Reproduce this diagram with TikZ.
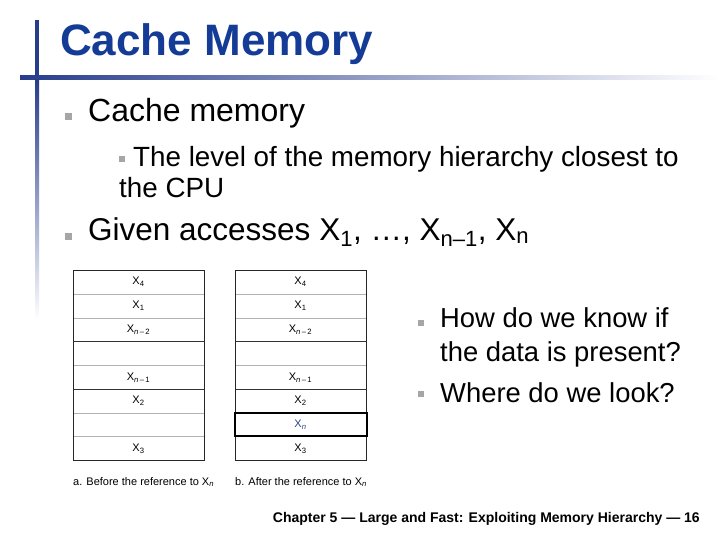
\documentclass[tikz,border=0pt]{standalone}
\usepackage{fontspec}
\setmainfont{Liberation Sans}
\definecolor{tblue}{RGB}{20,60,150}
\definecolor{bar}{RGB}{40,60,140}
\definecolor{xn}{RGB}{40,70,140}
\begin{document}
\begin{tikzpicture}[x=1pt,y=-1pt,
  bul/.style={fill=gray!70,minimum size=7pt,inner sep=0pt},
  txt/.style={anchor=west,inner sep=0pt,align=left},
  cell/.style={font=\fontsize{11}{12}\selectfont},
  captxt/.style={font=\fontsize{11}{12}\selectfont,anchor=west,inner sep=0pt}]
\useasboundingbox (0,0) rectangle (720,540);
\fill[white] (0,0) rectangle (720,540);
% decorations
\shade[left color=bar,right color=white] (20,76) rectangle (720,80);
\fill[bar] (35,20) rectangle (39,76);
\shade[top color=bar,bottom color=white] (35,80) rectangle (39,320);
\node[txt,text=tblue,font=\fontsize{44}{46}\selectfont\bfseries] (title) at (60,44) {Cache Memory};
% bullets
\node[bul] (b1) at (68,117) {};
\node[txt,font=\fontsize{32}{36}\selectfont] (t1) at (88,113) {Cache memory};
\node[bul,minimum size=6pt] (b2) at (122,159) {};
\node[txt,font=\fontsize{27.8}{31}\selectfont] (t2) at (119,172) {\hspace*{14pt}The level of the memory hierarchy closest to\\the CPU};
\node[bul] (b3) at (68,236) {};
\node[txt,font=\fontsize{31.5}{36}\selectfont] (t3) at (88,232) {Given accesses X\textsubscript{1}, …, X\textsubscript{n–1}, X\textsubscript{n}};
\node[bul,minimum size=6pt] (b4) at (421,323) {};
\node[bul,minimum size=6pt] (b5) at (421,394) {};
\node[txt,font=\fontsize{27.4}{34}\selectfont] (t4) at (440,337) {How do we know if\\the data is present?};
\node[txt,font=\fontsize{27.4}{34}\selectfont] (t5) at (440,393) {Where do we look?};
% tables
\foreach \x/\n in {73/a,235/b}{
  \draw[gray!60] (\x,294)--(\x+131,294) (\x,318)--(\x+131,318) (\x,365)--(\x+131,365) (\x,413)--(\x+131,413) (\x,436)--(\x+131,436);
  \draw[black!80] (\x,341)--(\x+131,341) (\x,389)--(\x+131,389);
  \draw[black!85,line width=0.7pt] (\x,270) rectangle (\x+131,460);
  \node[cell] (\n1) at (\x+65.5,282) {X\textsubscript{4}};
  \node[cell] (\n2) at (\x+65.5,306) {X\textsubscript{1}};
  \node[cell] (\n3) at (\x+65.5,330) {X\textsubscript{\itshape n\upshape\,–\,2}};
  \node[cell] (\n5) at (\x+65.5,378) {X\textsubscript{\itshape n\upshape\,–\,1}};
  \node[cell] (\n6) at (\x+65.5,401) {X\textsubscript{2}};
  \node[cell] (\n8) at (\x+65.5,449) {X\textsubscript{3}};
}
\draw[line width=1.5pt] (235,413) rectangle (367,436);
\node[cell,text=xn] (b7) at (300.5,425) {X\textsubscript{\itshape n}};
\node[captxt] (ca) at (73,482) {a. Before the reference to X\textsubscript{\itshape n}};
\node[captxt] (cb) at (235,482) {b. After the reference to X\textsubscript{\itshape n}};
\node[anchor=east,inner sep=0pt,font=\fontsize{14}{16}\selectfont\bfseries] (foot) at (700,519) {Chapter 5 — Large and Fast: Exploiting Memory Hierarchy — 16};
\end{tikzpicture}
\end{document}
